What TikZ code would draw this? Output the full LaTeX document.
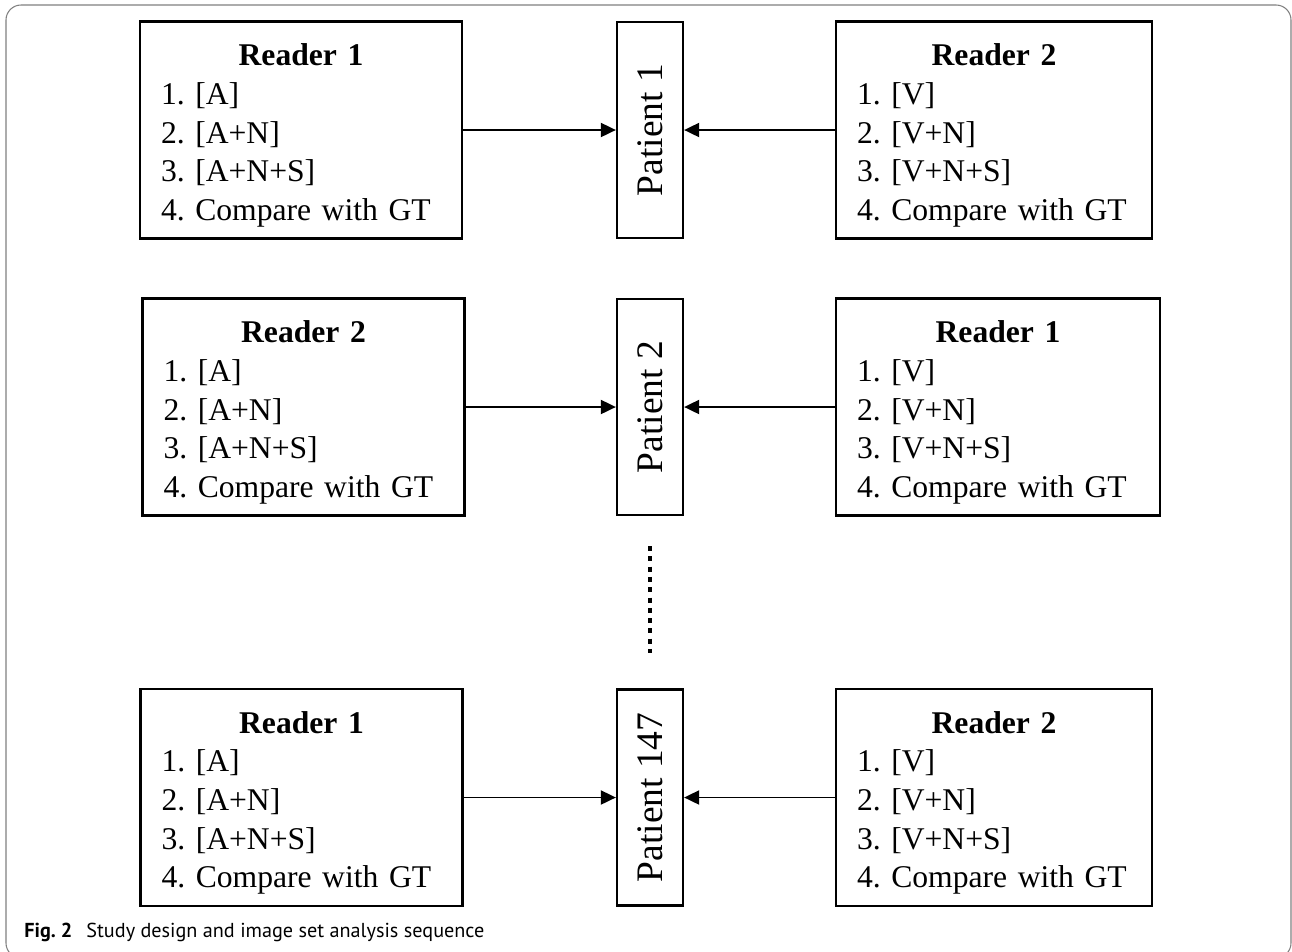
\documentclass[tikz,border=0pt]{standalone}
\usepackage{fontspec}
\setmainfont{Liberation Serif}
\newfontfamily\capfont{PT Sans}
\usetikzlibrary{arrows.meta}
\frenchspacing
\newcommand{\rdhead}[1]{\makebox[\hsize]{\rule{0pt}{0.66cm}\textbf{#1}}}
\tikzset{
    reader/.style={rectangle, draw, line width=1.3pt, minimum height=4.34cm,
    	inner xsep=0.42cm, text width=#1, align=left,
    	font=\fontsize{18}{22}\selectfont},
    reader/.default=5.6cm
}
\tikzset{
    patient/.style={rectangle, draw, line width=1.3pt, rotate=90,
    	minimum width=4.32cm, minimum height=1.32cm, inner sep=0pt,
    	font=\fontsize{21.3}{24}\selectfont}
}
\tikzset{
    feed/.style={line width=1.1pt, -{Triangle[length=0.3cm,width=0.28cm]}},
    dotline/.style={line width=0.09cm, dash pattern=on 0.1cm off 0.106cm},
    caption/.style={font=\capfont\fontsize{11.5}{13}\selectfont, inner sep=0pt}
}

\begin{document}
\begin{tikzpicture}[x=0.02cm, y=-0.02cm]
	\useasboundingbox (0,0) rectangle (1292,951);
	\draw[gray, line width=0.6pt, rounded corners=0.3cm] (6,5) rectangle (1291,958);

	\node (p1) [patient] at (650,130) {Patient 1};
	\node (p2) [patient] at (650,407) {Patient 2};
	\node (p3) [patient] at (650,797.5) {Patient 147};

	\node (r1a) [reader] at (301,130) {\rdhead{Reader 1}\\1. [A]\\2. [A+N]\\3. [A+N+S]\\4. Compare with GT};
	\node (r1b) [reader=5.48cm] at (994,130) {\rdhead{Reader 2}\\1. [V]\\2. [V+N]\\3. [V+N+S]\\4. Compare with GT};
	\node (r2a) [reader] at (303.5,407) {\rdhead{Reader 2}\\1. [A]\\2. [A+N]\\3. [A+N+S]\\4. Compare with GT};
	\node (r2b) [reader=5.64cm] at (998,407) {\rdhead{Reader 1}\\1. [V]\\2. [V+N]\\3. [V+N+S]\\4. Compare with GT};
	\node (r3a) [reader] at (301.5,797.5) {\rdhead{Reader 1}\\1. [A]\\2. [A+N]\\3. [A+N+S]\\4. Compare with GT};
	\node (r3b) [reader=5.48cm] at (994,797.5) {\rdhead{Reader 2}\\1. [V]\\2. [V+N]\\3. [V+N+S]\\4. Compare with GT};

	\draw[feed] (r1a.east) -- (p1.north);
	\draw[feed] (r1b.west) -- (p1.south);
	\draw[feed] (r2a.east) -- (p2.north);
	\draw[feed] (r2b.west) -- (p2.south);
	\draw[feed] (r3a.east) -- (p3.north);
	\draw[feed] (r3b.west) -- (p3.south);

	\coordinate (dtop) at (650,546);
	\coordinate (dbot) at (650,653);
	\draw[dotline] (dtop) -- (dbot);

	\node (cap) [caption, anchor=base west] at (24,937) {\textbf{Fig. 2}\hspace{0.28cm}Study design and image set analysis sequence};
\end{tikzpicture}
\end{document}
